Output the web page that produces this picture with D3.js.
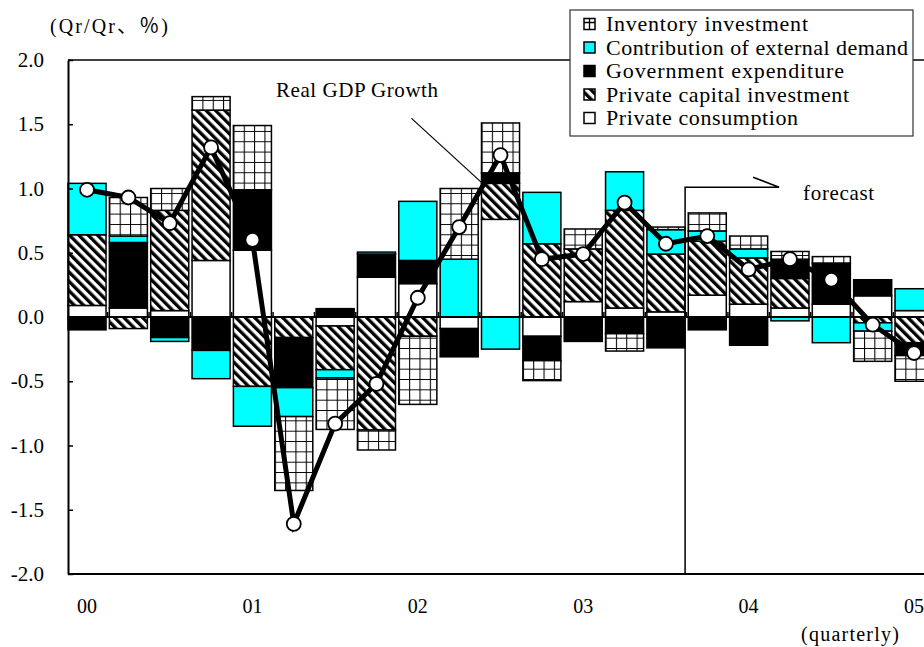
<!DOCTYPE html>
<html>
<head>
<meta charset="utf-8">
<script src="https://cdn.jsdelivr.net/npm/d3@7"></script>
<style>
  html, body { margin: 0; padding: 0; background: #fff; }
  svg { display: block; }
  text { font-family: "Liberation Serif", "Noto Sans CJK JP", serif; fill: #000; }
</style>
</head>
<body>
<svg id="chart" width="924" height="647"></svg>
<script>
// Quarterly contributions to real GDP growth (Qr/Qr, %)
const quarters = [
  "00Q1","00Q2","00Q3","00Q4",
  "01Q1","01Q2","01Q3","01Q4",
  "02Q1","02Q2","02Q3","02Q4",
  "03Q1","03Q2","03Q3","03Q4",
  "04Q1","04Q2","04Q3","04Q4",
  "05Q1"
];
const yearTicks = ["00Q1","01Q1","02Q1","03Q1","04Q1","05Q1"];
const yearLabels = ["00","01","02","03","04","05"];

const privateConsumption = [0.09, 0.07, 0.05, 0.44, 0.52, 0.00, -0.07, 0.31, 0.26, -0.09, 0.76, -0.15, 0.12, 0.07, 0.04, 0.17, 0.10, 0.07, 0.10, 0.165, 0.05];
const privateCapital     = [0.55, -0.09, 0.78, 1.17, -0.54, -0.16, -0.34, -0.88, -0.15, 0.00, 0.28, 0.57, 0.41, 0.76, 0.45, 0.42, 0.36, 0.23, 0.00, -0.045, -0.20];
const government         = [-0.10, 0.51, -0.16, -0.26, 0.47, -0.39, 0.065, 0.18, 0.18, -0.22, 0.08, -0.19, -0.19, -0.13, -0.24, -0.10, -0.22, 0.15, 0.32, 0.125, -0.10];
const externalDemand     = [0.40, 0.05, -0.03, -0.22, -0.31, -0.225, -0.065, 0.015, 0.46, 0.45, -0.25, 0.40, 0.00, 0.30, 0.19, 0.08, 0.07, -0.03, -0.20, -0.065, 0.17];
const inventory          = [0.00, 0.30, 0.17, 0.105, 0.50, -0.575, -0.40, -0.155, -0.53, 0.55, 0.39, -0.155, 0.155, -0.135, 0.02, 0.14, 0.10, 0.06, 0.05, -0.235, -0.20];
const realGDP            = [0.99, 0.93, 0.73, 1.32, 0.60, -1.61, -0.83, -0.52, 0.15, 0.70, 1.26, 0.45, 0.49, 0.89, 0.57, 0.63, 0.37, 0.45, 0.29, -0.06, -0.28];

const yTicks = [-2.0, -1.5, -1.0, -0.5, 0.0, 0.5, 1.0, 1.5, 2.0];
const forecastStart = "03Q4";
const gdpLabelQuarter = "02Q3";

const seriesKeys = ["consumption", "capital", "government", "external", "inventory"];
const legendKeys = ["inventory", "external", "government", "capital", "consumption"];
const legendNames = {
  inventory: "Inventory investment",
  external: "Contribution of external demand",
  government: "Government expenditure",
  capital: "Private capital investment",
  consumption: "Private consumption"
};
const legendWidths = { inventory: 202, external: 302, government: 238, capital: 243, consumption: 192 };

const rows = quarters.map((q, i) => ({
  q,
  consumption: privateConsumption[i],
  capital: privateCapital[i],
  government: government[i],
  external: externalDemand[i],
  inventory: inventory[i],
  gdp: realGDP[i]
}));

const svg = d3.select("#chart");

// Layout
const plotLeft = 68, plotTop = 60, plotBottom = 574;
const step = 41.35, pad = 0.08;
const x = d3.scaleBand()
  .domain(quarters)
  .range([plotLeft - step * pad, plotLeft - step * pad + step * (quarters.length + pad)])
  .padding(pad);
const plotRight = x.range()[1] + 20;
const y = d3.scaleLinear().domain([-2, 2]).range([plotBottom, plotTop]);

// Fill patterns
const defs = svg.append("defs");
const gs = x.step() / 4;
const grid = defs.append("pattern")
  .attr("id", "grid").attr("patternUnits", "userSpaceOnUse")
  .attr("x", plotLeft).attr("y", y(0))
  .attr("width", gs).attr("height", gs);
grid.append("rect").attr("width", gs).attr("height", gs).attr("fill", "#fff");
grid.append("path").attr("d", `M0,0.5H${gs}M0.5,0V${gs}`).attr("stroke", "#000").attr("stroke-width", 1.1).attr("fill", "none");

const hp = 6.6;
const hatch = defs.append("pattern")
  .attr("id", "hatch").attr("patternUnits", "userSpaceOnUse")
  .attr("width", hp).attr("height", hp)
  .attr("patternTransform", "rotate(-45)");
hatch.append("rect").attr("width", hp).attr("height", hp).attr("fill", "#fff");
hatch.append("rect").attr("width", hp * 0.5).attr("height", hp).attr("fill", "#000");

const fills = {
  consumption: "#ffffff",
  capital: "url(#hatch)",
  government: "#000000",
  external: "#00ffff",
  inventory: "url(#grid)"
};

// Frame: top and bottom borders
svg.append("line").attr("x1", plotLeft).attr("x2", plotRight).attr("y1", plotTop).attr("y2", plotTop)
  .attr("stroke", "#000").attr("stroke-width", 1.5);
svg.append("line").attr("x1", plotLeft).attr("x2", plotRight).attr("y1", plotBottom).attr("y2", plotBottom)
  .attr("stroke", "#000").attr("stroke-width", 2);

// Stacked bars
const stacked = d3.stack().keys(seriesKeys).offset(d3.stackOffsetDiverging)(rows);
const layers = svg.append("g").selectAll("g").data(stacked).join("g")
  .attr("fill", d => fills[d.key]);
layers.selectAll("rect")
  .data(d => d.filter(s => Math.abs(s[1] - s[0]) > 1e-9))
  .join("rect")
  .attr("x", d => x(d.data.q))
  .attr("width", x.bandwidth())
  .attr("y", d => y(Math.max(d[0], d[1])))
  .attr("height", d => Math.abs(y(d[0]) - y(d[1])))
  .attr("stroke", "#000")
  .attr("stroke-width", 1.5);

// Zero line with quarter separators
svg.append("line").attr("x1", plotLeft).attr("x2", plotRight).attr("y1", y(0)).attr("y2", y(0))
  .attr("stroke", "#000").attr("stroke-width", 2);
svg.append("g").selectAll("line").data(quarters.slice(1)).join("line")
  .attr("x1", d => x(d) - x.step() * pad / 2)
  .attr("x2", d => x(d) - x.step() * pad / 2)
  .attr("y1", y(0)).attr("y2", y(0) - 5)
  .attr("stroke", "#000").attr("stroke-width", 1.5);

// Y axis
const yAxis = svg.append("g").attr("transform", `translate(${plotLeft},0)`)
  .call(d3.axisLeft(y).tickValues(yTicks).tickFormat(d => d.toFixed(1))
    .tickSize(-5).tickSizeOuter(0).tickPadding(24));
yAxis.select(".domain").attr("stroke-width", 2);
yAxis.selectAll(".tick line").attr("stroke-width", 1.5);
yAxis.selectAll("text").attr("font-size", 21).attr("font-family", "Liberation Serif");

// X axis labels
const xAxis = svg.append("g").attr("transform", `translate(0,${plotBottom})`)
  .call(d3.axisBottom(x).tickValues(yearTicks)
    .tickFormat(d => yearLabels[yearTicks.indexOf(d)])
    .tickSize(0).tickPadding(25));
xAxis.select(".domain").remove();
xAxis.selectAll("text").attr("font-size", 20).attr("font-family", "Liberation Serif");

// Forecast marker
const fx = x(forecastStart) - x.step() * pad / 2 - 1.5;
const fy = y(1.01);
svg.append("path")
  .attr("d", `M${fx},${plotBottom}V${fy}H${fx + 94}L${fx + 68},${fy - 10}`)
  .attr("fill", "none").attr("stroke", "#000").attr("stroke-width", 1.5);
svg.append("text").attr("x", fx + 118).attr("y", fy + 13).attr("font-size", 21)
  .attr("textLength", 71).attr("lengthAdjust", "spacing").text("forecast");

// Real GDP growth line
const cx = d => x(d.q) + x.bandwidth() / 2;
svg.append("path").datum(rows)
  .attr("d", d3.line().x(cx).y(d => y(d.gdp)))
  .attr("fill", "none").attr("stroke", "#000").attr("stroke-width", 5)
  .attr("stroke-linejoin", "miter");
svg.append("g").selectAll("circle").data(rows).join("circle")
  .attr("cx", cx).attr("cy", d => y(d.gdp)).attr("r", 7)
  .attr("fill", "#fff").attr("stroke", "#000").attr("stroke-width", 1.8);

// Real GDP growth label with leader line
const lx = x(gdpLabelQuarter) + 1, ly = y(1.04);
svg.append("line").attr("x1", lx - 71).attr("y1", ly - 65).attr("x2", lx).attr("y2", ly)
  .attr("stroke", "#000").attr("stroke-width", 1.2);
svg.append("text").attr("x", 276).attr("y", 97).attr("font-size", 21)
  .attr("textLength", 162).attr("lengthAdjust", "spacing").text("Real GDP Growth");

// Unit label
svg.append("text").attr("x", 50).attr("y", 33).attr("font-size", 20)
  .attr("textLength", 118).attr("lengthAdjust", "spacing").text("(Qr/Qr、％)");

// Period label
svg.append("text").attr("x", 801).attr("y", 641).attr("font-size", 20)
  .attr("textLength", 98).attr("lengthAdjust", "spacing").text("(quarterly)");

// Legend
const lg = svg.append("g").attr("transform", "translate(570,10)");
lg.append("rect").attr("width", 343).attr("height", 126)
  .attr("fill", "#fff").attr("stroke", "#333").attr("stroke-width", 1.2);
const items = lg.selectAll("g.item").data(legendKeys).join("g")
  .attr("class", "item")
  .attr("transform", (d, i) => `translate(14,${14 + i * 23.5})`);
items.append("rect").attr("x", 0).attr("y", -5.5).attr("width", 11).attr("height", 11)
  .attr("fill", d => d === "inventory" ? "#fff" : fills[d])
  .attr("stroke", "#000").attr("stroke-width", 1.5);
items.filter(d => d === "inventory").append("path")
  .attr("d", "M0,-1.5H11M5.5,-5.5V5.5")
  .attr("stroke", "#000").attr("stroke-width", 1.3);
items.append("text").attr("x", 22).attr("y", 7).attr("font-size", 22)
  .attr("textLength", d => legendWidths[d]).attr("lengthAdjust", "spacing")
  .text(d => legendNames[d]);
</script>
</body>
</html>
